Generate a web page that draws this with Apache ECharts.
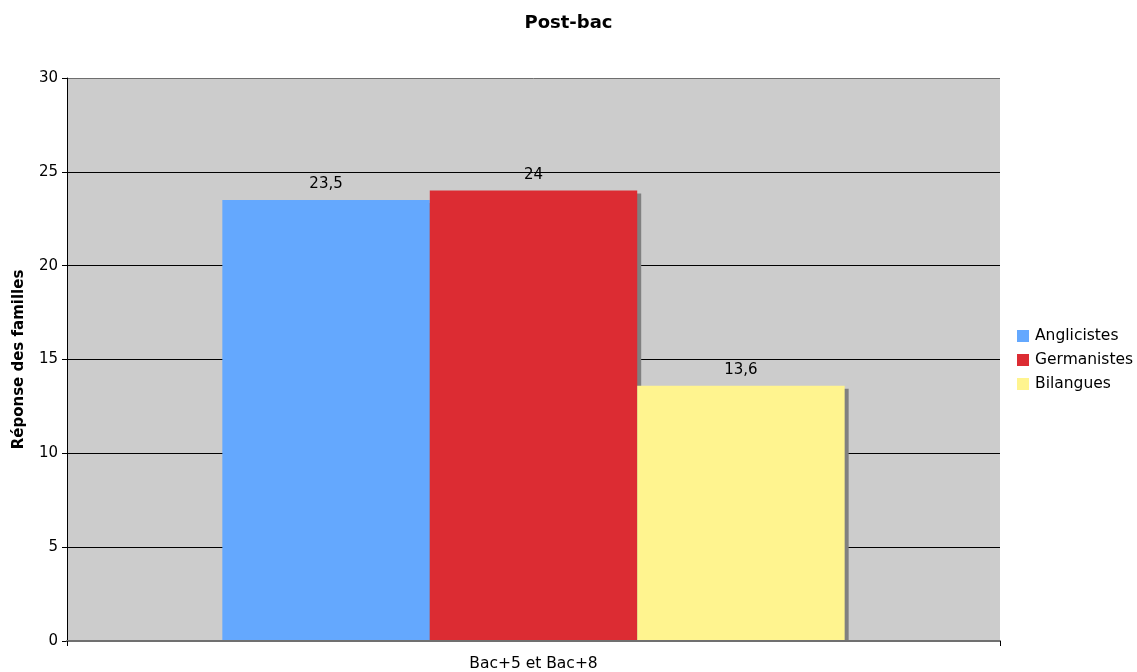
<!DOCTYPE html>
<html>
<head>
<meta charset="utf-8">
<script src="https://cdn.jsdelivr.net/npm/echarts@6/dist/echarts.min.js"></script>
<style>
  html, body { margin: 0; padding: 0; background: #fff; }
  #chart { width: 1137px; height: 672px; }
</style>
</head>
<body>
<div id="chart"></div>
<script>
// Survey results: families' responses, post-bac level
const categories = ['Bac+5 et Bac+8'];
const seriesNames = ['Anglicistes', 'Germanistes', 'Bilangues'];
const anglicistes = [23.5];
const germanistes = [24];
const bilangues = [13.6];
const seriesColors = ['#64a8fe', '#dc2c33', '#fff48f'];
const yTicks = { min: 0, max: 30, interval: 5 };

const FONT = 'DejaVu Sans';
const fmt = v => String(v).replace('.', ',');

const values = [anglicistes, germanistes, bilangues];

const GRID = { left: 67, right: 137, top: 78, bottom: 31 };
const W = 1137, H = 672;

const chart = echarts.init(document.getElementById('chart'), null, { renderer: 'canvas' });

chart.setOption({
  animation: false,
  textStyle: { fontFamily: FONT },
  title: {
    text: 'Post-bac',
    left: 'center',
    top: 9,
    textStyle: { fontFamily: FONT, fontSize: 18, fontWeight: 'bold', color: '#000' }
  },
  legend: {
    orient: 'vertical',
    left: 1012,
    top: 323,
    itemWidth: 12,
    itemHeight: 12,
    itemGap: 8,
    icon: 'rect',
    textStyle: { fontFamily: FONT, fontSize: 15.5, color: '#000', padding: [0, 0, 0, 1] },
    data: seriesNames
  },
  grid: {
    left: GRID.left, right: GRID.right, top: GRID.top, bottom: GRID.bottom,
    show: true,
    backgroundColor: '#cccccc',
    borderWidth: 0
  },
  // white strip under the plot so the drop shadows stop at the baseline
  graphic: [{
    type: 'rect',
    z: 5,
    silent: true,
    shape: { x: GRID.left + 1, y: H - GRID.bottom + 1, width: W - GRID.left - GRID.right - 2, height: 5 },
    style: { fill: '#fff' }
  }],
  xAxis: {
    type: 'category',
    data: categories,
    z: 6,
    axisLine: { show: true, lineStyle: { color: '#707070', width: 2 } },
    axisTick: { show: true, length: 5, lineStyle: { color: '#000' } },
    axisLabel: { fontFamily: FONT, fontSize: 15.5, color: '#000', margin: 15 },
    splitLine: { show: false }
  },
  yAxis: {
    type: 'value',
    min: yTicks.min,
    max: yTicks.max,
    interval: yTicks.interval,
    name: 'Réponse des familles',
    nameLocation: 'middle',
    nameGap: 40,
    nameRotate: 90,
    nameTextStyle: { fontFamily: FONT, fontSize: 15, fontWeight: 'bold', color: '#000' },
    axisLine: { show: true, lineStyle: { color: '#000', width: 1 } },
    axisTick: { show: true, length: 5, lineStyle: { color: '#000' } },
    axisLabel: { fontFamily: FONT, fontSize: 15, color: '#000', margin: 9 },
    splitLine: {
      show: true,
      lineStyle: { color: ['#707070', '#000', '#000', '#000', '#000', '#000', '#6e6e6e'], width: 1 }
    }
  },
  series: seriesNames.map((name, i) => ({
    name: name,
    type: 'bar',
    data: values[i],
    barGap: '0%',
    barCategoryGap: '33.3%',
    itemStyle: {
      color: seriesColors[i],
      shadowColor: '#808080',
      shadowOffsetX: 4,
      shadowOffsetY: 3,
      shadowBlur: 0
    },
    label: {
      show: true,
      position: 'top',
      distance: 8,
      fontFamily: FONT,
      fontSize: 15,
      color: '#000',
      formatter: p => fmt(p.value)
    }
  }))
});
</script>
</body>
</html>
